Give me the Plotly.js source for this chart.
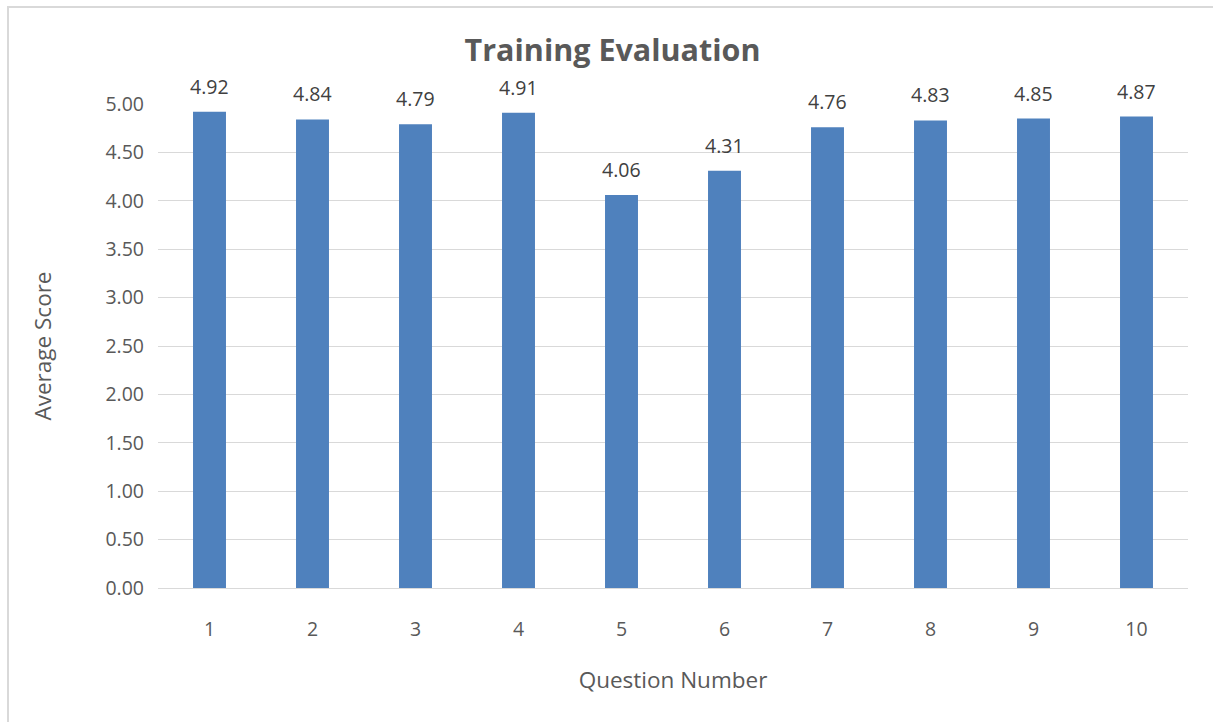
<!DOCTYPE html>
<html>
<head>
<meta charset="utf-8">
<script src="https://cdn.plot.ly/plotly-3.0.1.min.js"></script>
<style>
html,body{margin:0;padding:0;background:#fff;overflow:hidden;}
#frame{position:absolute;left:7px;top:6px;width:1300px;height:800px;border-left:2px solid #d9d9d9;border-top:2px solid #d9d9d9;box-sizing:border-box;pointer-events:none;z-index:5;}
#chart{position:absolute;left:0;top:0;width:1213px;height:722px;}
</style>
</head>
<body>
<div id="chart"></div>
<div id="frame"></div>
<script>
const questions = ['1','2','3','4','5','6','7','8','9','10'];
const scores = [4.92, 4.84, 4.79, 4.91, 4.06, 4.31, 4.76, 4.83, 4.85, 4.87];
const yTicks = [0,0.5,1,1.5,2,2.5,3,3.5,4,4.5,5];
const yTickLabels = ['0.00','0.50','1.00','1.50','2.00','2.50','3.00','3.50','4.00','4.50','5.00'];

const FONT = 'Open Sans, Noto Sans, sans-serif';
const trace = {
  type: 'bar',
  x: questions,
  y: scores,
  width: 0.32,
  marker: {color: '#4f81bd'},
  hoverinfo: 'x+y'
};
// data labels placed at each category (by its index on the category axis)
const labels = questions.map((q, i) => ({
  x: i, y: scores[i], xref: 'x', yref: 'y',
  text: scores[i].toFixed(2), showarrow: false,
  yanchor: 'bottom', yshift: 10,
  font: {family: FONT, size: 19.5, color: '#404040'}
}));
const layout = {
  width: 1213, height: 722,
  margin: {l: 158, r: 25, t: 104, b: 134},
  paper_bgcolor: '#ffffff', plot_bgcolor: '#ffffff',
  font: {family: FONT, color: '#595959', size: 19},
  showlegend: false,
  title: {text: 'Training Evaluation', font: {family: FONT, size: 30.5, color: '#595959', weight: 'bold'}, x: 0.505, xanchor: 'center', y: 1 - 50/722, yanchor: 'middle', yref: 'container'},
  xaxis: {
    type: 'category', showgrid: false, zeroline: false,
    range: [-0.5, questions.length - 0.5],
    showline: true, linecolor: '#d9d9d9', linewidth: 1,
    ticks: '', ticklabelstandoff: 24,
    tickfont: {family: FONT, size: 19.5, color: '#595959'},
    title: {text: 'Question Number', font: {family: FONT, size: 22.5, color: '#595959'}, standoff: 30},
    automargin: false
  },
  yaxis: {
    range: [0, 5], tickvals: yTicks, ticktext: yTickLabels,
    showgrid: true, gridcolor: '#d9d9d9', gridwidth: 1,
    zeroline: false, showline: false, ticks: '', ticklabelstandoff: 13,
    tickfont: {family: FONT, size: 19.5, color: '#595959'},
    title: {text: 'Average Score', font: {family: FONT, size: 22.5, color: '#595959'}, standoff: 47},
    automargin: false
  },
  annotations: labels,
  bargap: 0.68
};
Plotly.newPlot('chart', [trace], layout, {displayModeBar: false, staticPlot: true});
</script>
</body>
</html>
